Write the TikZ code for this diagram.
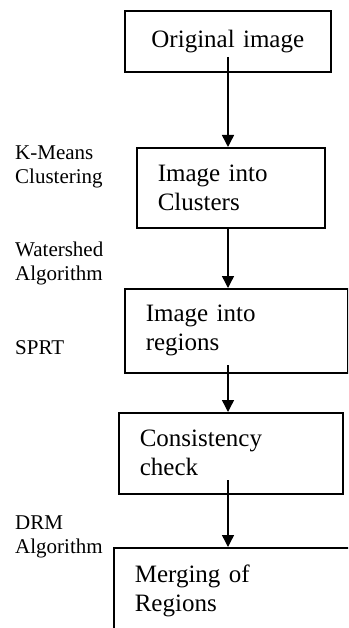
\documentclass[tikz,border=0pt]{standalone}
\usepackage{fontspec}
\setmainfont{Liberation Serif}
\usetikzlibrary{arrows.meta,positioning}

\tikzset{
    box/.style={draw, line width=1.6pt, anchor=north west, align=left,
        inner xsep=21pt, inner ysep=0pt, font=\fontsize{25}{29}\selectfont},
    steplabel/.style={anchor=west, align=left, inner sep=0pt,
        font=\fontsize{21}{24}\selectfont},
    arrow/.style={-{Triangle[width=12pt,length=12pt]}, line width=1.4pt}
}

\begin{document}
\begin{tikzpicture}[x=1pt,y=-1pt]

    \clip (0,0) rectangle (348,628);

    %boxes
    \node (orig) [box, align=center, text width=164pt, minimum height=61pt] at (124,10) {Original image};
    \node (clus) [box, text width=146pt, minimum height=80pt] at (136,147) {Image into\\Clusters};
    \node (regi) [box, text width=181pt, minimum height=84pt] at (124,288) {Image into\\regions};
    \node (cons) [box, text width=182pt, minimum height=81pt] at (118,412) {Consistency\\check};
    \node (merg) [box, text width=215pt, minimum height=86pt] at (113,547) {Merging of\\Regions};

    %arrows
    \coordinate (a1) at (228,57);
    \coordinate (a2) at (228,227);
    \coordinate (a3) at (228,365);
    \coordinate (a4) at (228,480);

    \draw [arrow] (a1) -- (a1 |- clus.north);
    \draw [arrow] (a2) -- (a2 |- regi.north);
    \draw [arrow] (a3) -- (a3 |- cons.north);
    \draw [arrow] (a4) -- (a4 |- merg.north);

    %labels
    \node (kmeans) [steplabel] at (15,167) {K-Means\\Clustering};
    \node (water) [steplabel] at (15,263) {Watershed\\Algorithm};
    \node (sprt) [steplabel] at (15,348) {SPRT};
    \node (drm) [steplabel] at (15,537) {DRM\\Algorithm};

\end{tikzpicture}
\end{document}
